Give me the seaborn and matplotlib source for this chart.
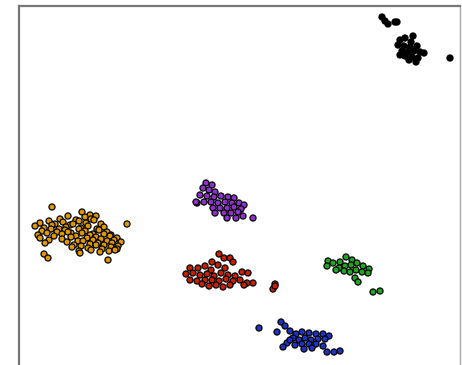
import matplotlib
matplotlib.use("Agg")
import matplotlib.pyplot as plt
import seaborn as sns
import pandas as pd

# Two-dimensional embedding coordinates, one list pair per group
orange_x = [82, 90,
            60, 68, 76, 85, 91, 96,
            40, 49, 55, 63, 70, 79, 86, 94, 101,
            35, 44, 52, 59, 66, 73, 81, 88, 97, 104,
            42, 51, 57, 65, 71, 79, 85, 93, 99, 107, 111,
            38, 47, 54, 62, 68, 76, 82, 90, 96, 104, 110, 117,
            40, 49, 62, 71, 78, 87, 93, 101, 107, 114, 121,
            45, 67, 74, 83, 90, 98, 104, 112, 118,
            72, 81, 88, 96, 102, 111, 117,
            79, 91, 100, 109, 115,
            52, 127, 108, 44, 48, 80]
orange_y = [212, 215,
            219, 216, 220, 217, 219, 216,
            223, 221, 224, 222, 225, 221, 223, 220, 224,
            226, 228, 225, 229, 227, 224, 228, 226, 229, 227,
            231, 229, 232, 230, 233, 229, 231, 234, 230, 232, 235,
            235, 233, 236, 234, 232, 236, 233, 235, 237, 234, 236, 238,
            238, 240, 239, 237, 241, 238, 240, 239, 241, 240, 242,
            243, 242, 245, 241, 244, 243, 245, 243, 246,
            247, 246, 248, 245, 249, 247, 249,
            251, 250, 252, 251, 250,
            207, 224, 260, 254, 258, 253]

purple_x = [206, 212, 203, 209, 215, 200, 207, 214, 221, 228, 234, 197, 204,
            211, 218, 225, 232, 239, 244, 213, 220, 227, 234, 241, 215, 224,
            231, 238, 227, 236, 243, 253, 196]
purple_y = [183, 185, 188, 190, 192, 195, 196, 197, 196, 197, 198, 203, 202,
            202, 203, 202, 203, 203, 205, 208, 208, 208, 207, 209, 213, 213,
            213, 212, 218, 218, 216, 218, 202]

red_x = [219, 224, 230, 233, 212, 218, 205, 198, 190, 211, 225, 186, 193,
         200, 207, 214, 221, 228, 235, 242, 248, 190, 197, 205, 212, 219,
         226, 233, 240, 247, 253, 202, 209, 216, 223, 230, 244, 275, 273, 275]
red_y = [254, 258, 258, 262, 262, 265, 266, 268, 268, 270, 268, 274, 273,
         275, 274, 276, 273, 275, 276, 272, 273, 280, 281, 280, 280, 281,
         279, 281, 280, 283, 283, 284, 286, 285, 287, 285, 285, 284, 289, 286]

green_x = [328, 327, 333, 340, 346, 352, 339, 345, 351, 357, 363, 369, 344,
           350, 356, 362, 368, 355, 358, 373, 380, 336]
green_y = [261, 266, 263, 262, 257, 260, 268, 266, 265, 263, 266, 269, 271,
           272, 270, 272, 273, 278, 282, 292, 291, 270]

blue_x = [259, 281, 285, 277, 290, 296, 302, 309, 316, 323, 329, 293, 299,
          305, 311, 318, 325, 287, 295, 302, 309, 316, 323, 283, 304, 312,
          327, 334, 340, 290]
blue_y = [328, 322, 326, 332, 331, 334, 332, 333, 334, 334, 336, 338, 340,
          338, 340, 339, 339, 343, 345, 344, 344, 344, 346, 347, 349, 348,
          352, 352, 351, 340]

black_x = [382, 385, 388, 395, 397, 400, 405, 413, 411, 398, 404, 410, 417,
           402, 408, 414, 420, 424, 405, 412, 418, 416, 409, 450, 400]
black_y = [17, 21, 24, 22, 22, 40, 38, 36, 42, 45, 46, 47, 46,
           51, 52, 51, 52, 53, 56, 57, 58, 62, 60, 58, 55]

groups = ["orange", "purple", "red", "green", "blue", "black"]
colors = ["#e09800", "#9030d0", "#cc1e00", "#1ea81e", "#1e32c4", "#000000"]

frames = []
for name, xs, ys in [("orange", orange_x, orange_y), ("purple", purple_x, purple_y),
                     ("red", red_x, red_y), ("green", green_x, green_y),
                     ("blue", blue_x, blue_y), ("black", black_x, black_y)]:
    frames.append(pd.DataFrame({"x": xs, "y": ys, "group": name}))
df = pd.concat(frames, ignore_index=True)

sns.set_style("white")
fig = plt.figure(figsize=(4.62, 3.65), dpi=100)
ax = fig.add_axes([19 / 462, -11 / 365, 441 / 462, 370 / 365])

sns.scatterplot(data=df, x="x", y="y", hue="group", hue_order=groups,
                palette=dict(zip(groups, colors)), s=19, edgecolor="black",
                linewidth=0.9, legend=False, ax=ax)

ax.set_xlim(19, 460)
ax.set_ylim(376, 6)
ax.set_xticks([])
ax.set_yticks([])
ax.set_xlabel("")
ax.set_ylabel("")
for side in ["left", "top", "right", "bottom"]:
    ax.spines[side].set_color("#777777")
    ax.spines[side].set_linewidth(1.6)
ax.spines["right"].set_color("#aaaaaa")
ax.spines["right"].set_linewidth(1.0)

fig.savefig("out.png", dpi=100)
